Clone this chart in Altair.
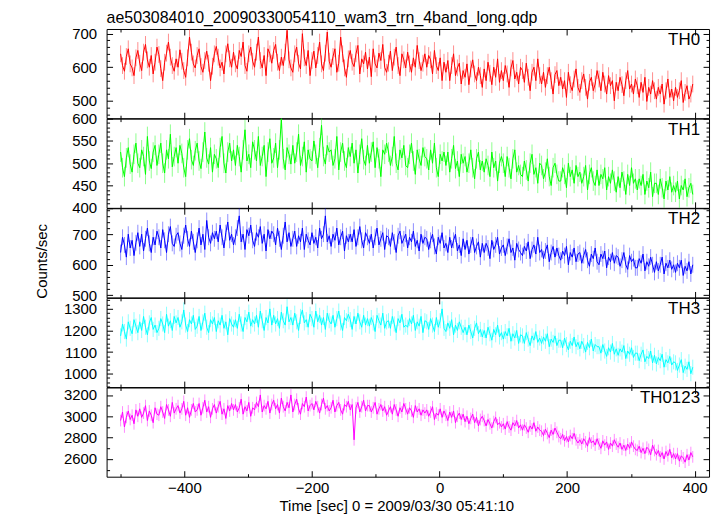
import altair as alt
import pandas as pd

FONT = "Liberation Sans"
W = 605
H = 89.6

TITLE = "ae503084010_20090330054110_wam3_trn_4band_long.qdp"
X_TITLE = "Time [sec] 0 = 2009/03/30 05:41:10"
Y_TITLE = "Counts/sec"

TIME_START = -500
TIME_STEP = 3

th0 = [
    640, 605, 588, 632, 655, 610, 598, 575, 628, 650,
    612, 590, 645, 668, 622, 600, 635, 580, 615, 660,
    638, 596, 560, 615, 642, 675, 630, 605, 588, 625,
    600, 652, 618, 590, 570, 628, 690, 645, 610, 598,
    635, 655, 602, 585, 620, 648, 612, 560, 603, 640,
    662, 630, 598, 615, 580, 640, 670, 625, 600, 645,
    610, 595, 650, 632, 675, 605, 588, 640, 660, 618,
    600, 645, 690, 620, 598, 635, 575, 655, 640, 612,
    650, 668, 615, 590, 630, 605, 645, 710, 622, 598,
    585, 640, 660, 612, 595, 700, 628, 605, 650, 575,
    620, 648, 598, 635, 675, 610, 590, 642, 705, 618,
    600, 632, 655, 585, 612, 690, 640, 598, 570, 625,
    650, 615, 602, 640, 665, 580, 625, 610, 645, 595,
    630, 572, 655, 610, 598, 642, 620, 668, 600, 585,
    612, 648, 590, 630, 660, 605, 575, 640, 622, 598,
    645, 610, 585, 628, 600, 665, 620, 590, 612, 640,
    600, 635, 622, 580, 650, 605, 590, 628, 560, 615,
    585, 620, 560, 605, 640, 575, 598, 612, 550, 590,
    570, 610, 548, 595, 622, 580, 560, 600, 575, 540,
    595, 560, 615, 582, 548, 600, 570, 625, 555, 590,
    560, 605, 580, 540, 598, 620, 565, 585, 550, 600,
    590, 555, 612, 570, 530, 585, 600, 560, 625, 575,
    550, 585, 540, 575, 600, 560, 520, 578, 590, 545,
    570, 535, 560, 510, 585, 548, 530, 565, 595, 540,
    525, 560, 580, 540, 505, 555, 570, 530, 550, 590,
    565, 530, 585, 550, 520, 575, 545, 560, 500, 555,
    530, 570, 548, 515, 560, 590, 535, 550, 520, 565,
    545, 510, 555, 525, 570, 498, 540, 520, 560, 530,
    505, 540, 520, 550, 490, 530, 565, 510, 535, 500,
    540, 510, 530, 560, 495, 525, 545, 505, 520, 550,
]

th1 = [
    525, 490, 470, 512, 535, 498, 480, 520, 545, 500,
    490, 530, 515, 475, 560, 505, 488, 525, 540, 495,
    520, 545, 500, 478, 530, 510, 565, 492, 515, 535,
    500, 540, 522, 490, 470, 530, 555, 508, 495, 528,
    545, 505, 488, 525, 570, 512, 498, 535, 480, 520,
    510, 490, 535, 560, 500, 478, 525, 545, 505, 530,
    495, 540, 515, 480, 530, 575, 505, 520, 490, 548,
    530, 505, 560, 495, 515, 540, 470, 525, 555, 500,
    512, 545, 490, 530, 600, 510, 485, 535, 520, 498,
    540, 500, 525, 565, 495, 515, 548, 480, 530, 510,
    505, 550, 520, 490, 535, 585, 515, 498, 540, 525,
    530, 495, 510, 560, 485, 525, 545, 505, 490, 535,
    515, 545, 500, 530, 478, 520, 555, 508, 495, 540,
    500, 525, 548, 490, 535, 510, 470, 530, 520, 545,
    525, 495, 515, 560, 500, 485, 530, 512, 540, 495,
    490, 520, 545, 505, 475, 530, 510, 495, 535, 515,
    510, 485, 530, 500, 545, 490, 470, 520, 505, 525,
    495, 525, 480, 510, 540, 488, 505, 470, 520, 500,
    515, 480, 500, 530, 490, 465, 510, 525, 485, 505,
    480, 510, 495, 470, 525, 490, 505, 460, 500, 515,
    500, 470, 515, 490, 465, 510, 530, 480, 495, 475,
    470, 505, 485, 460, 500, 520, 475, 490, 455, 500,
    495, 465, 480, 510, 470, 450, 490, 500, 475, 460,
    460, 490, 475, 445, 500, 470, 485, 455, 495, 470,
    480, 455, 470, 495, 440, 475, 490, 460, 450, 485,
    450, 475, 465, 490, 440, 470, 455, 485, 460, 435,
    470, 445, 480, 460, 430, 475, 450, 490, 455, 465,
    440, 465, 450, 475, 430, 460, 445, 480, 425, 455,
    455, 430, 465, 445, 420, 460, 440, 470, 435, 450,
    435, 460, 420, 450, 440, 465, 425, 445, 455, 430,
]

th2 = [
    640, 690, 665, 625, 700, 655, 680, 630, 672, 705,
    660, 700, 645, 685, 720, 670, 640, 690, 665, 710,
    690, 655, 715, 680, 640, 700, 725, 670, 660, 695,
    705, 670, 650, 695, 730, 685, 660, 710, 675, 640,
    680, 720, 665, 700, 650, 745, 690, 670, 705, 685,
    710, 675, 730, 690, 655, 705, 740, 680, 700, 665,
    690, 720, 760, 675, 700, 650, 715, 695, 730, 680,
    660, 705, 690, 725, 670, 700, 645, 715, 685, 710,
    700, 665, 720, 685, 650, 695, 740, 675, 705, 660,
    685, 710, 660, 695, 675, 720, 650, 700, 680, 665,
    705, 670, 690, 655, 720, 685, 700, 760, 675, 695,
    660, 700, 680, 720, 665, 690, 710, 645, 695, 675,
    700, 675, 715, 660, 690, 725, 680, 655, 705, 690,
    670, 700, 655, 690, 720, 665, 685, 705, 650, 695,
    690, 660, 705, 675, 640, 695, 710, 670, 685, 700,
    655, 690, 675, 710, 660, 680, 645, 700, 670, 690,
    685, 650, 680, 700, 660, 635, 690, 670, 705, 655,
    670, 640, 690, 655, 680, 700, 645, 665, 630, 685,
    650, 680, 635, 665, 690, 640, 660, 675, 625, 670,
    640, 670, 655, 620, 680, 650, 665, 690, 635, 655,
    665, 630, 660, 685, 640, 655, 615, 670, 650, 640,
    630, 660, 645, 675, 620, 650, 665, 635, 690, 640,
    650, 620, 645, 665, 610, 640, 660, 625, 655, 630,
    615, 645, 630, 660, 600, 640, 625, 655, 610, 635,
    640, 605, 630, 650, 615, 595, 635, 620, 655, 610,
    600, 635, 620, 645, 590, 625, 610, 640, 605, 630,
    625, 595, 615, 640, 600, 585, 630, 610, 620, 590,
    590, 620, 605, 635, 580, 610, 595, 625, 600, 575,
    610, 580, 600, 625, 570, 605, 590, 615, 585, 600,
    575, 605, 590, 615, 565, 595, 580, 610, 570, 600,
]

th3 = [
    1175, 1230, 1195, 1160, 1240, 1210, 1185, 1250, 1220, 1190,
    1240, 1200, 1265, 1215, 1180, 1235, 1260, 1205, 1225, 1190,
    1210, 1255, 1230, 1190, 1275, 1220, 1245, 1200, 1265, 1235,
    1260, 1215, 1240, 1295, 1225, 1195, 1250, 1230, 1270, 1205,
    1220, 1265, 1200, 1240, 1280, 1215, 1190, 1250, 1230, 1260,
    1195, 1245, 1225, 1270, 1210, 1240, 1180, 1255, 1230, 1215,
    1250, 1210, 1275, 1230, 1195, 1260, 1240, 1285, 1220, 1250,
    1230, 1270, 1215, 1290, 1245, 1200, 1260, 1235, 1300, 1225,
    1270, 1230, 1255, 1210, 1285, 1245, 1225, 1310, 1240, 1260,
    1225, 1280, 1240, 1200, 1265, 1295, 1235, 1250, 1215, 1275,
    1255, 1215, 1290, 1240, 1270, 1225, 1260, 1205, 1280, 1245,
    1230, 1270, 1215, 1255, 1290, 1235, 1200, 1260, 1245, 1275,
    1250, 1205, 1265, 1230, 1280, 1240, 1215, 1270, 1225, 1255,
    1220, 1260, 1235, 1195, 1270, 1245, 1225, 1280, 1210, 1240,
    1245, 1210, 1265, 1230, 1190, 1255, 1235, 1275, 1215, 1225,
    1215, 1255, 1230, 1270, 1200, 1240, 1220, 1265, 1190, 1245,
    1240, 1205, 1255, 1225, 1195, 1260, 1215, 1245, 1300, 1210,
    1195, 1235, 1210, 1250, 1180, 1225, 1200, 1240, 1215, 1190,
    1215, 1180, 1225, 1195, 1165, 1210, 1235, 1185, 1205, 1170,
    1200, 1165, 1215, 1185, 1155, 1205, 1180, 1225, 1170, 1190,
    1160, 1195, 1175, 1210, 1150, 1185, 1165, 1200, 1140, 1180,
    1175, 1140, 1190, 1160, 1130, 1175, 1155, 1195, 1145, 1165,
    1140, 1170, 1150, 1185, 1125, 1160, 1145, 1175, 1130, 1155,
    1155, 1120, 1165, 1135, 1110, 1150, 1130, 1170, 1125, 1145,
    1115, 1150, 1130, 1100, 1145, 1120, 1160, 1105, 1135, 1125,
    1125, 1095, 1135, 1105, 1080, 1120, 1100, 1140, 1090, 1115,
    1085, 1115, 1100, 1130, 1070, 1105, 1090, 1120, 1075, 1095,
    1095, 1060, 1090, 1110, 1055, 1080, 1070, 1105, 1050, 1085,
    1045, 1075, 1060, 1090, 1030, 1065, 1050, 1080, 1040, 1055,
    1050, 1015, 1040, 1065, 1005, 1035, 1020, 1055, 1000, 1030,
]

th0123 = [
    2960, 3040, 2900, 2990, 3050, 2970, 3010, 2930, 3060, 3000,
    3070, 2990, 3030, 3100, 2960, 3050, 3010, 2940, 3080, 3020,
    3010, 3090, 3040, 2980, 3110, 3060, 3000, 3130, 3030, 3070,
    3100, 3030, 3070, 3140, 3010, 3080, 2990, 3060, 3120, 3040,
    3060, 3120, 3010, 3080, 3150, 3040, 3090, 2990, 3070, 3110,
    3030, 3090, 3140, 3020, 3070, 2980, 3100, 3050, 3120, 3060,
    3110, 3040, 3080, 3160, 3020, 3090, 3050, 3130, 3000, 3080,
    3060, 3130, 3090, 3200, 3040, 3100, 3070, 3140, 3030, 3110,
    3150, 3070, 3110, 3030, 3170, 3090, 3050, 3130, 3080, 3200,
    3040, 3110, 3160, 3070, 3020, 3120, 3090, 3180, 3050, 3100,
    3120, 3060, 3140, 3090, 3030, 3110, 3170, 3070, 3100, 3050,
    3080, 3150, 3040, 3100, 3130, 3060, 3020, 3110, 3090, 3140,
    3060, 3110, 2780, 3080, 3130, 3040, 3090, 3150, 3050, 3100,
    3100, 3040, 3080, 3130, 3020, 3070, 3110, 3050, 3090, 3010,
    3050, 3090, 3020, 3110, 3060, 3000, 3080, 3040, 3120, 3070,
    3020, 3080, 3050, 2990, 3100, 3040, 3070, 3010, 3060, 3030,
    3060, 3000, 3040, 3090, 2970, 3030, 3010, 3070, 2990, 3050,
    3010, 2960, 3040, 2990, 3050, 2940, 3000, 3030, 2970, 3020,
    2950, 3000, 2930, 2980, 3020, 2940, 2990, 2910, 2970, 3000,
    2960, 2910, 2970, 2930, 2890, 2950, 2990, 2920, 2940, 2900,
    2930, 2880, 2950, 2900, 2870, 2940, 2910, 2960, 2890, 2920,
    2870, 2920, 2890, 2850, 2910, 2880, 2940, 2860, 2900, 2870,
    2860, 2820, 2880, 2840, 2800, 2870, 2830, 2890, 2850, 2810,
    2790, 2830, 2770, 2810, 2760, 2820, 2790, 2840, 2780, 2750,
    2780, 2740, 2790, 2760, 2720, 2800, 2750, 2770, 2730, 2790,
    2740, 2700, 2770, 2730, 2760, 2690, 2750, 2720, 2780, 2740,
    2710, 2750, 2690, 2730, 2680, 2740, 2700, 2760, 2720, 2690,
    2680, 2720, 2660, 2700, 2650, 2710, 2690, 2640, 2730, 2680,
    2640, 2680, 2620, 2660, 2600, 2670, 2630, 2690, 2610, 2650,
    2600, 2650, 2580, 2630, 2610, 2570, 2640, 2590, 2660, 2620,
]

series = [th0, th1, th2, th3, th0123]
series_names = ["TH0", "TH1", "TH2", "TH3", "TH0123"]
series_errors = [25, 22, 26, 35, 55]
series_colors = ["#ff0000", "#00ff00", "#0000ff", "#00ffff", "#ff00ff"]

x_domain = [-522, 422.5]
x_major = [-400, -200, 0, 200, 400]
x_minor = [-500, -300, -100, 100, 300]

y_domains = [[448, 714], [400, 600], [493, 785], [938, 1351], [2434, 3270]]
y_major = [
    [500, 600, 700],
    [400, 450, 500, 550, 600],
    [500, 600, 700],
    [1000, 1100, 1200, 1300],
    [2600, 2800, 3000, 3200],
]
y_minor_step = [20, 10, 20, 20, 100]


def tick_axis(orient, values, size, offset):
    return alt.Axis(orient=orient, values=values, tickSize=size, offset=offset,
                    labels=False, domain=False, grid=False, title=None,
                    ticks=True, tickColor="black", tickWidth=1)


def make_panel(i):
    vals = series[i]
    err = series_errors[i]
    color = series_colors[i]
    last = i == len(series) - 1
    times = [TIME_START + TIME_STEP * k for k in range(len(vals))]
    df = pd.DataFrame({"t": times, "v": vals})
    df["lo"] = df["v"] - err
    df["hi"] = df["v"] + err

    lo_d, hi_d = y_domains[i]
    step = y_minor_step[i]
    start = (int(lo_d) // step + 1) * step
    minor = [v for v in range(start, int(hi_d) + 1, step) if v not in y_major[i]]

    xs = alt.Scale(domain=x_domain, nice=False, zero=False)
    ys = alt.Scale(domain=y_domains[i], nice=False, zero=False)

    label_axis_kw = dict(orient="left", values=y_major[i], ticks=False, tickSize=0,
                         domain=False, grid=False, labelPadding=10, format="d",
                         labelFontSize=15, labelFont=FONT, labelColor="black")
    if i == 2:
        label_axis = alt.Axis(title=Y_TITLE, titleFontSize=15, titleFont=FONT,
                              titleFontWeight="normal", titleColor="black",
                              titleX=-57, titleY=H / 2 + 8, titleAngle=270,
                              **label_axis_kw)
    else:
        label_axis = alt.Axis(title=None, **label_axis_kw)

    base = alt.Chart(df)
    err_layer = base.mark_rule(color=color, opacity=0.45, strokeWidth=1, clip=True).encode(
        x=alt.X("t:Q", scale=xs, axis=tick_axis("top", x_major, 6, -H)),
        y=alt.Y("lo:Q", scale=ys, axis=label_axis),
        y2="hi:Q",
    )
    line_layer = base.mark_line(color=color, strokeWidth=1, clip=True).encode(
        x=alt.X("t:Q", scale=xs, axis=tick_axis("bottom", x_major, 6, -H)),
        y=alt.Y("v:Q", scale=ys, axis=tick_axis("right", y_major[i], 6, -W)),
    )
    d1 = base.mark_point(opacity=0).encode(
        x=alt.X("t:Q", scale=xs, axis=tick_axis("top", x_minor, 3, -H)),
        y=alt.Y("v:Q", scale=ys, axis=tick_axis("right", minor, 3, -W)),
    )
    d2 = base.mark_point(opacity=0).encode(
        x=alt.X("t:Q", scale=xs, axis=tick_axis("bottom", x_minor, 3, -H)),
        y=alt.Y("v:Q", scale=ys, axis=tick_axis("left", y_major[i], 6, -W)),
    )
    if last:
        x_label_axis = alt.Axis(orient="bottom", values=x_major, ticks=False, tickSize=0,
                                domain=False, grid=False, labelPadding=4, labelFlush=False,
                                labelFontSize=15, labelFont=FONT, labelColor="black",
                                title=X_TITLE, titleFontSize=15, titleFont=FONT,
                                titleFontWeight="normal", titleColor="black",
                                titleX=291, titlePadding=3)
    else:
        x_label_axis = None
    d3 = base.mark_point(opacity=0).encode(
        x=alt.X("t:Q", scale=xs, axis=x_label_axis),
        y=alt.Y("v:Q", scale=ys, axis=tick_axis("left", minor, 3, -W)),
    )
    name_layer = alt.Chart(pd.DataFrame({"name": [series_names[i]]})).mark_text(
        align="right", baseline="top", fontSize=17, font=FONT, color="black"
    ).encode(x=alt.value(W - 9), y=alt.value(3), text="name:N")

    layer = alt.layer(err_layer, line_layer, d1, d2, d3, name_layer).resolve_axis(
        x="independent", y="independent"
    ).properties(width=W, height=H)
    if i == 0:
        layer = layer.properties(title=alt.Title(TITLE, anchor="start", frame="group",
                                                  fontSize=16, font=FONT, fontWeight="normal",
                                                  color="black", offset=1))
    return layer


panels = [make_panel(i) for i in range(len(series))]

chart = alt.vconcat(*panels, spacing=0, bounds="flush").properties(
    padding={"left": 26, "top": 0, "right": 5, "bottom": 5},
    background="white",
).configure_view(stroke="black", strokeWidth=1)

chart.save("out.html", embed_options={"renderer": "svg", "actions": False})
